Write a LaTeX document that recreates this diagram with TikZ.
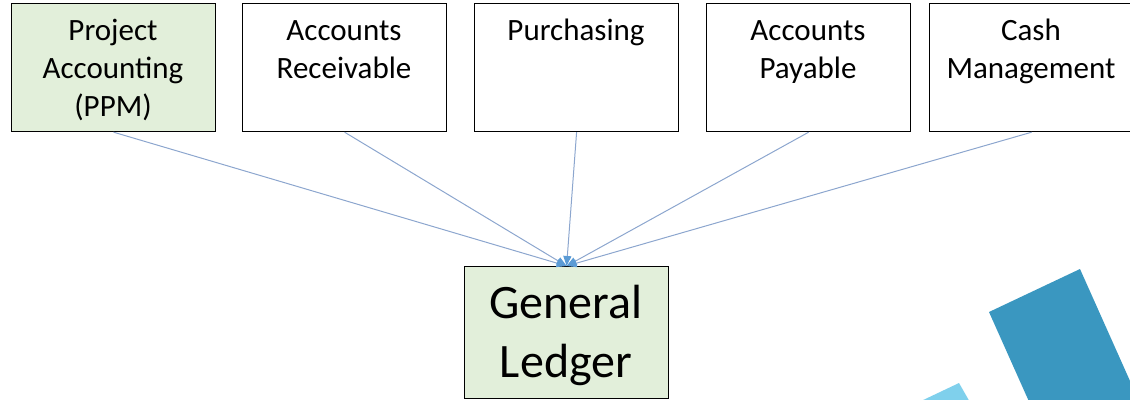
\documentclass[tikz,border=0pt]{standalone}
\usepackage{fontspec}
\setmainfont{Carlito}
\usetikzlibrary{arrows.meta}
\definecolor{boxgreen}{HTML}{E2EFDA}
\definecolor{lineblue}{HTML}{8CA6CE}
\definecolor{tipblue}{HTML}{5B9BD5}
\definecolor{darkteal}{HTML}{3A97C0}
\definecolor{lightteal}{HTML}{7FD0EC}
\tikzset{
  modbox/.style={draw=black, line width=1.2pt, rectangle, minimum width=204pt, minimum height=128pt, inner sep=0pt, anchor=north west},
  modtext/.style={font=\fontsize{31}{38}\selectfont, align=center, anchor=base, inner sep=0pt},
  gltext/.style={font=\fontsize{48}{58}\selectfont, align=center, anchor=base, inner sep=0pt},
  feed/.style={draw=lineblue, line width=1pt, -{Triangle[length=10pt,width=8pt,color=tipblue,fill=tipblue]}}
}
\begin{document}
\begin{tikzpicture}[x=1pt,y=-1pt]
\useasboundingbox (0,0) rectangle (1130,399);
\begin{scope}
\clip (0,0) rectangle (1130,399);
% decorative shapes
\fill[darkteal] (989,312) -- (1080,269) -- (1147,419) -- (1056,462) -- cycle;
\fill[lightteal] (959,383) -- (900,411) -- (975,411) -- cycle;
% boxes
\node[modbox, fill=boxgreen] (pa) at (11,3) {};
\node[modbox] (ar) at (242,3) {};
\node[modbox] (pu) at (474,3) {};
\node[modbox] (ap) at (706,3) {};
\node[modbox] (cm) at (929,3) {};
\node[draw=black, line width=1.2pt, fill=boxgreen, rectangle, minimum width=204pt, minimum height=132pt, inner sep=0pt, anchor=north west] (gl) at (464,266) {};
\end{scope}
% texts
\node[modtext] (t1) at (113,40) {Project};
\node[modtext] (t1b) at (113,78) {Accounting};
\node[modtext] (t1c) at (113,116) {(PPM)};
\node[modtext] (t2) at (344,40) {Accounts};
\node[modtext] (t2b) at (344,78) {Receivable};
\node[modtext] (t3) at (576,40) {Purchasing};
\node[modtext] (t4) at (808,40) {Accounts};
\node[modtext] (t4b) at (808,78) {Payable};
\node[modtext] (t5) at (1031,40) {Cash};
\node[modtext] (t5b) at (1031,78) {Management};
\node[gltext] (g1) at (566,318) {General};
\node[gltext] (g2) at (566,377) {Ledger};
% connectors
\draw[feed] (pa.south) -- (gl.north);
\draw[feed] (ar.south) -- (gl.north);
\draw[feed] (pu.south) -- (gl.north);
\draw[feed] (ap.south) -- (gl.north);
\draw[feed] (cm.south) -- (gl.north);
\end{tikzpicture}
\end{document}
